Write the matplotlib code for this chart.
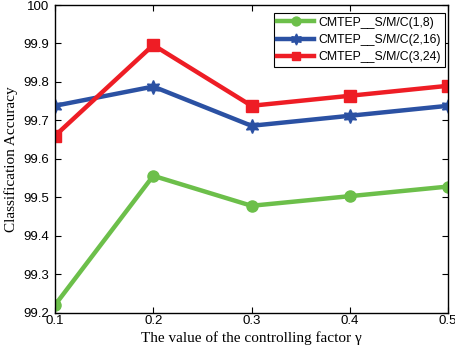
import matplotlib
matplotlib.use("Agg")
import matplotlib.pyplot as plt

# controlling factor values and accuracy for each configuration
gamma = [0.1, 0.2, 0.3, 0.4, 0.5]
acc_1_8 = [99.22, 99.556, 99.478, 99.503, 99.528]
acc_2_16 = [99.738, 99.788, 99.686, 99.712, 99.738]
acc_3_24 = [99.66, 99.896, 99.738, 99.764, 99.79]
labels = ["CMTEP__S/M/C(1,8)", "CMTEP__S/M/C(2,16)", "CMTEP__S/M/C(3,24)"]

fig = plt.figure(figsize=(4.55, 3.58), dpi=100)
ax = fig.add_axes([0.1209, 0.1265, 0.8637, 0.8595])

hexagram = (6, 1, 0)
ax.plot(gamma, acc_1_8, color="#6cbf4a", marker="o", markersize=8, linewidth=3.2, label=labels[0])
ax.plot(gamma, acc_2_16, color="#2b51a3", marker=hexagram, markersize=10, linewidth=3.2, label=labels[1])
ax.plot(gamma, acc_3_24, color="#ee1d25", marker="s", markersize=8, linewidth=3.2, label=labels[2])

ax.set_xlim(0.1, 0.5)
ax.set_ylim(99.2, 100)
ax.set_xticks(gamma)
ax.set_xticklabels(["0.1", "0.2", "0.3", "0.4", "0.5"])
ax.set_yticks([99.2, 99.3, 99.4, 99.5, 99.6, 99.7, 99.8, 99.9, 100])
ax.set_yticklabels(["99.2", "99.3", "99.4", "99.5", "99.6", "99.7", "99.8", "99.9", "100"])
ax.tick_params(direction="in", top=True, right=True, labelsize=9.5, length=4, width=0.8)
ax.tick_params(axis="x", pad=2)
ax.tick_params(axis="y", pad=4)
for lab in ax.get_xticklabels() + ax.get_yticklabels():
    lab.set_family("Liberation Sans")
for sp in ax.spines.values():
    sp.set_linewidth(1.0)

ax.set_xlabel("The value of the controlling factor \u03b3", family="Liberation Serif", fontsize=11, labelpad=3)
ax.set_ylabel("Classification Accuracy", family="Liberation Serif", fontsize=11, labelpad=4)

leg = ax.legend(loc="upper right", prop={"family": "Liberation Sans", "size": 8.8},
                fancybox=False, edgecolor="black", framealpha=1, handlelength=3.0,
                markerscale=0.8, borderpad=0.3, labelspacing=0.42, handletextpad=0.4,
                borderaxespad=0.15, bbox_to_anchor=(0.997, 0.98))
leg.get_frame().set_linewidth(0.8)

fig.savefig("out.png", dpi=100)
